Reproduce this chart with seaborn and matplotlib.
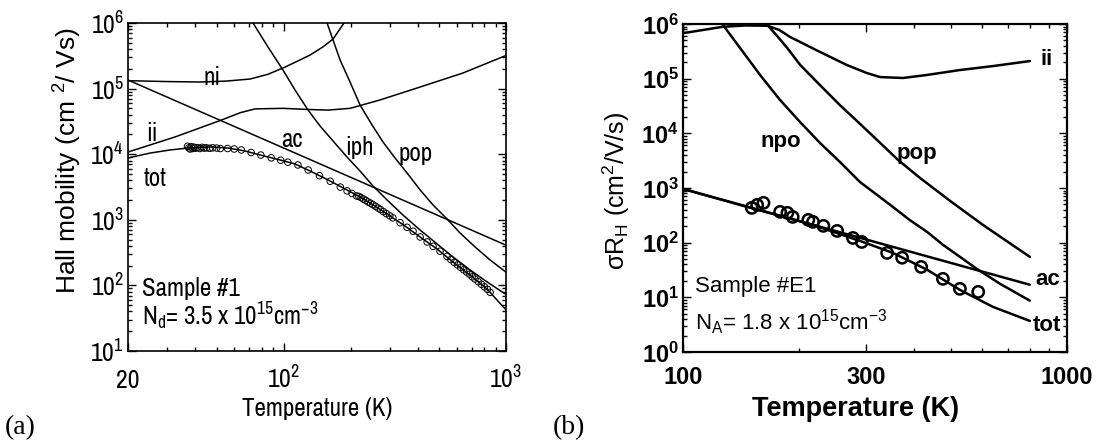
import matplotlib
matplotlib.use('Agg')
import matplotlib.pyplot as plt
import seaborn as sns
from matplotlib import font_manager
from matplotlib.ticker import FixedLocator, LogLocator, NullFormatter, FixedFormatter

# ---------------- panel (a) data ----------------
a_xticks = [20, 100, 1000]
a_xticklabels = ['20', r'$\mathregular{10^{2}}$', r'$\mathregular{10^{3}}$']
a_yticks = [1e1, 1e2, 1e3, 1e4, 1e5, 1e6]
a_yticklabels = [r'$\mathregular{10^{%d}}$' % k for k in range(1, 7)]

a_ni_T = [20, 30, 42, 55, 70.8, 85, 99.4, 115, 131.6, 150, 167, 187, 200]
a_ni_mu = [1.32e5, 1.28e5, 1.26e5, 1.3e5, 1.4e5, 1.65e5, 2.06e5, 2.6e5, 3.25e5, 4.3e5, 5.7e5, 1.0e6, 1.4e6]

a_ii_T = [20, 32.5, 52.4, 64, 74.4, 99.4, 130, 158, 199, 271, 398, 641, 1000]
a_ii_mu = [1.08e4, 1.83e4, 3.3e4, 4.3e4, 4.9e4, 5.0e4, 4.8e4, 4.7e4, 5.0e4, 6.7e4, 1.02e5, 1.73e5, 3.2e5]

a_ac_T = [20, 1000]
a_ac_mu = [1.35e5, 4.1e2]

a_iph_T = [70, 72.9, 85.1, 99.4, 112.6, 128.8, 145.9, 166.9, 192.8, 220.7, 252.4, 294.8, 344.4,
           410.6, 489.8, 577.9, 689, 821.6, 1010]
a_iph_mu = [1.15e6, 1.0e6, 4.31e5, 1.92e5, 9.52e4, 4.72e4, 2.69e4, 1.59e4, 9.06e3, 5.54e3, 3.27e3,
            1.94e3, 1.18e3, 700, 428, 271, 172, 113, 71]

a_pop_T = [150, 156.9, 179.5, 199, 220.7, 249.9, 280, 317, 359, 411, 470, 543, 621, 726, 848, 1010]
a_pop_mu = [1.4e6, 1.0e6, 2.73e5, 1.26e5, 5.62e4, 2.79e4, 1.53e4, 8.75e3, 5.17e3, 2.85e3, 1.68e3,
            1.03e3, 630, 385, 244, 155]

a_tot_T = [20, 25.1, 30.9, 37.2, 46.7, 56.3, 67.1, 78.4, 96.4, 112.6, 134.3, 158.5, 189, 220.7,
           257.8, 301, 351.6, 410.6, 489.8, 577.9, 689, 821.6, 1010]
a_tot_mu = [8.75e3, 1.04e4, 1.16e4, 1.24e4, 1.29e4, 1.24e4, 1.12e4, 9.73e3, 8.17e3, 7.1e3, 5.36e3,
            4.05e3, 2.95e3, 2.23e3, 1.62e3, 1.14e3, 804, 547, 359, 227, 144, 88, 40.7]

a_exp_T = [37, 37.5, 38, 38.5, 39, 39.5, 40, 41, 42, 43, 44, 45, 46.5, 48, 50, 52,
           56, 60, 64.6, 71.5, 79, 88, 97, 104.5, 116, 129, 145,
           162, 180, 193, 203, 213, 218, 223, 228, 234, 240, 246, 252, 259, 266, 273, 281, 290,
           300, 310, 334, 359, 382, 411, 442, 470, 505, 543, 565, 585, 605, 625, 645, 665,
           685, 705, 725, 750, 775, 800, 825, 848]
a_exp_mu = [1.32e4, 1.25e4, 1.2e4, 1.3e4, 1.22e4, 1.28e4, 1.23e4, 1.26e4, 1.22e4, 1.27e4,
            1.24e4, 1.25e4, 1.23e4, 1.25e4, 1.24e4, 1.22e4,
            1.22e4, 1.2e4, 1.16e4, 1.06e4, 9.7e3, 8.8e3, 8.1e3, 7.55e3, 6.85e3, 5.74e3, 4.7e3,
            3.87e3, 3.15e3, 2.76e3, 2.52e3, 2.31e3, 2.27e3, 2.18e3, 2.08e3, 1.98e3, 1.87e3, 1.79e3,
            1.7e3, 1.61e3, 1.51e3, 1.43e3, 1.33e3, 1.24e3,
            1.15e3, 1.07e3, 904, 769, 670, 547, 459, 394, 332, 276, 247, 224, 205, 188, 173, 160,
            148, 135, 125, 114, 104, 95, 87, 78.5]

# ---------------- panel (b) data ----------------
b_xticks = [100, 300, 1000]
b_xticklabels = ['100', '300', '1000']
b_yticks = [1e0, 1e1, 1e2, 1e3, 1e4, 1e5, 1e6]
b_yticklabels = [r'$\mathbf{10^{%d}}$' % k for k in range(0, 7)]

b_ii_T = [100, 127, 145, 166, 178, 190, 227, 267, 301, 326, 374, 432, 526, 641, 800]
b_ii_mu = [6.8e5, 8.9e5, 9.4e5, 9.3e5, 7.8e5, 5.8e5, 3.1e5, 1.78e5, 1.27e5, 1.07e5, 1.03e5,
           1.17e5, 1.44e5, 1.7e5, 2.1e5]

b_npo_T = [125, 127.1, 140.8, 158.7, 178.9, 201.6, 227.3, 256.2, 288.8, 320, 351.9, 388.9, 432.3,
           475.6, 526.2, 582, 668.8, 800]
b_npo_mu = [1.05e6, 9.6e5, 3.64e5, 1.17e5, 4.08e4, 1.62e4, 6.68e3, 3.0e3, 1.29e3, 749, 451, 261,
            157, 91, 55, 33.2, 17.7, 8.7]

b_pop_T = [166, 176, 187, 202, 227, 256, 289, 326, 363, 414, 496, 604, 800]
b_pop_mu = [9.5e5, 6.0e5, 3.6e5, 1.78e5, 7.7e4, 3.3e4, 1.49e4, 6.7e3, 3.26e3, 1.53e3, 581, 211, 55]

b_ac_T = [100, 800]
b_ac_mu = [963, 17]

b_tot_T = [100, 147, 218, 294, 352, 432, 526, 641, 800]
b_tot_mu = [963, 451, 212, 103, 65, 32, 13.7, 6.7, 3.7]

b_exp_T = [151, 156, 162, 179, 187, 193, 212, 218, 232, 252, 277, 292, 340, 372, 417, 475, 526, 587]
b_exp_mu = [433, 491, 535, 366, 351, 296, 261, 240, 203, 164, 122, 103, 65, 53, 36, 21.8, 14.3, 12.6]

# ---------------- style ----------------
sns.set_theme(style='ticks')


def has_font(name):
    try:
        font_manager.findfont(font_manager.FontProperties(family=name), fallback_to_default=False)
        return True
    except Exception:
        return False


NARROW = 'Liberation Sans'
for cand in ['Nimbus Sans Narrow', 'Liberation Sans Narrow', 'Arial Narrow', 'Archivo Narrow',
             'Roboto Condensed', 'Liberation Sans']:
    if has_font(cand):
        NARROW = cand
        break

plt.rcParams.update({
    'font.family': [NARROW, 'DejaVu Sans'],
    'mathtext.fontset': 'custom',
    'mathtext.rm': NARROW,
    'mathtext.it': NARROW + ':italic',
    'mathtext.bf': 'Liberation Sans:bold',
    'mathtext.sf': 'Liberation Sans',
    'axes.edgecolor': 'black',
    'text.color': 'black',
    'xtick.color': 'black',
    'ytick.color': 'black',
    'axes.labelcolor': 'black',
})

fig = plt.figure(figsize=(11.02, 4.44), dpi=100)
fig.patch.set_facecolor('white')
axA = fig.add_axes([0.1162, 0.2095, 0.343, 0.7387])
axB = fig.add_axes([0.6198, 0.2072, 0.3485, 0.7387])


def setup_axes(ax, xlim, ylim, xt, xtl, yt, ytl, tick_size, bold, lw_spine):
    ax.set_xscale('log')
    ax.set_yscale('log')
    ax.set_xlim(*xlim)
    ax.set_ylim(*ylim)
    ax.xaxis.set_major_locator(FixedLocator(xt))
    ax.xaxis.set_major_formatter(FixedFormatter(xtl))
    ax.xaxis.set_minor_locator(LogLocator(base=10, subs=range(2, 10), numticks=20))
    ax.xaxis.set_minor_formatter(NullFormatter())
    ax.yaxis.set_major_locator(FixedLocator(yt))
    ax.yaxis.set_major_formatter(FixedFormatter(ytl))
    ax.yaxis.set_minor_locator(LogLocator(base=10, subs=range(2, 10), numticks=20))
    ax.yaxis.set_minor_formatter(NullFormatter())
    ax.tick_params(which='both', direction='in', top=True, right=True, width=1.0, colors='black')
    ax.tick_params(which='major', length=6)
    ax.tick_params(which='minor', length=3)
    ax.tick_params(axis='y', which='major', pad=3, labelsize=tick_size)
    ax.tick_params(axis='x', which='major', labelsize=tick_size)
    for s in ax.spines.values():
        s.set_visible(True)
        s.set_linewidth(lw_spine)
        s.set_color('black')
    ax.set_facecolor('white')
    ax.grid(False)
    if bold:
        for lbl in ax.get_xticklabels():
            lbl.set_fontweight('bold')
            lbl.set_family('Liberation Sans')


# ---------------- panel (a) ----------------
setup_axes(axA, (20, 1000), (1e1, 1e6), a_xticks, a_xticklabels, a_yticks, a_yticklabels,
           18.5, False, 1.2)
axA.tick_params(axis='x', which='major', pad=27)
for lbl in axA.get_xticklabels():
    lbl.set_va('baseline')

for T, mu in [(a_ni_T, a_ni_mu), (a_ii_T, a_ii_mu), (a_ac_T, a_ac_mu), (a_iph_T, a_iph_mu),
              (a_pop_T, a_pop_mu), (a_tot_T, a_tot_mu)]:
    sns.lineplot(x=T, y=mu, ax=axA, color='black', lw=1.1, sort=False, estimator=None,
                 legend=False)
sns.scatterplot(x=a_exp_T, y=a_exp_mu, ax=axA, marker='o', s=22, edgecolor='black',
                linewidth=0.7, legend=False, zorder=3)
axA.collections[-1].set_facecolor('none')
axA.collections[-1].set_edgecolor('black')

lab_kw = dict(fontsize=18, ha='center', va='center', family=NARROW)
axA.text(47.6, 1.5e5, 'ni', **lab_kw)
axA.text(25.6, 2.1e4, 'ii', **lab_kw)
axA.text(26.5, 4.3e3, 'tot', **lab_kw)
axA.text(109, 1.7e4, 'ac', **lab_kw)
axA.text(220, 1.25e4, 'iph', **lab_kw)
axA.text(392, 1.04e4, 'pop', **lab_kw)
axA.text(0.037, 0.192, 'Sample #1', transform=axA.transAxes, fontsize=18, ha='left',
         va='center', family=NARROW)
axA.text(0.037, 0.107, r'N$_\mathregular{d}$= 3.5 x 10$^\mathregular{15}$cm$^\mathregular{-3}$',
         transform=axA.transAxes, fontsize=18, ha='left', va='center', family=NARROW)

axA.set_xlabel('Temperature (K)', fontsize=18, family=NARROW, labelpad=3)
axA.set_ylabel(r'Hall mobility (cm $^\mathsf{2}$/ Vs)', fontsize=19, family='Liberation Sans')
axA.yaxis.set_label_coords(-0.117, 0.58)

# ---------------- panel (b) ----------------
setup_axes(axB, (100, 1000), (1e0, 1e6), b_xticks, b_xticklabels, b_yticks, b_yticklabels,
           17, True, 1.6)
axB.tick_params(axis='x', which='major', pad=10)

for T, mu in [(b_ii_T, b_ii_mu), (b_npo_T, b_npo_mu), (b_pop_T, b_pop_mu), (b_ac_T, b_ac_mu),
              (b_tot_T, b_tot_mu)]:
    sns.lineplot(x=T, y=mu, ax=axB, color='black', lw=1.8, sort=False, estimator=None,
                 legend=False)
sns.scatterplot(x=b_exp_T, y=b_exp_mu, ax=axB, marker='o', s=66, edgecolor='black',
                linewidth=1.8, legend=False, zorder=3)
axB.collections[-1].set_facecolor('none')
axB.collections[-1].set_edgecolor('black')

blab = dict(fontsize=16, fontweight='bold', family='Liberation Sans', va='center',
            transform=axB.transAxes)
axB.text(0.255, 0.643, 'npo', ha='center', **blab)
axB.text(0.609, 0.604, 'pop', ha='center', **blab)
axB.text(0.93, 0.893, 'ii', ha='left', **blab)
axB.text(0.917, 0.22, 'ac', ha='left', **blab)
axB.text(0.911, 0.082, 'tot', ha='left', **blab)
axB.text(0.031, 0.201, 'Sample #E1', transform=axB.transAxes, fontsize=16, ha='left',
         va='center', family='Liberation Sans')
axB.text(0.031, 0.091, r'N$_\mathsf{A}$= 1.8 x 10$^\mathsf{15}$cm$^\mathsf{-3}$',
         transform=axB.transAxes, fontsize=16, ha='left', va='center', family='Liberation Sans')

axB.set_xlabel('Temperature (K)', fontsize=19.5, fontweight='bold', family='Liberation Sans')
axB.xaxis.set_label_coords(0.45, -0.135)
axB.set_ylabel(r'σR$_\mathsf{H}$ (cm$^\mathsf{2}$/V/s)', fontsize=18, family='Liberation Sans')
axB.yaxis.set_label_coords(-0.133, 0.49)

# panel tags
fig.text(0.0045, 0.038, '(a)', fontsize=20, family='Liberation Serif', ha='left', va='center')
fig.text(0.502, 0.038, '(b)', fontsize=20, family='Liberation Serif', ha='left', va='center')

fig.savefig('out.png', dpi=100, facecolor='white')
